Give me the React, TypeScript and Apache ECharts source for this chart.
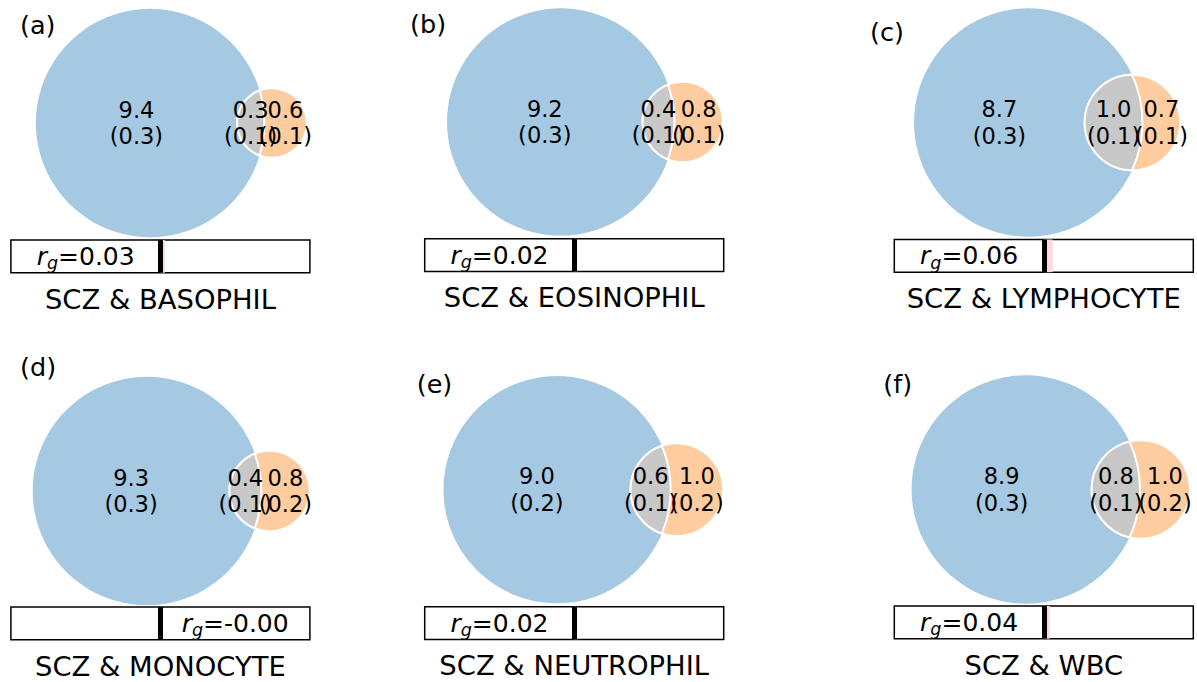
import React, { useEffect, useRef } from "react";
import * as echarts from "echarts";

// ---------- data ----------
const traits = ["BASOPHIL", "EOSINOPHIL", "LYMPHOCYTE", "MONOCYTE", "NEUTROPHIL", "WBC"];
const panelTags = ["(a)", "(b)", "(c)", "(d)", "(e)", "(f)"];
const sczOnly = [9.4, 9.2, 8.7, 9.3, 9.0, 8.9];
const sczOnlySe = [0.3, 0.3, 0.3, 0.3, 0.2, 0.3];
const shared = [0.3, 0.4, 1.0, 0.4, 0.6, 0.8];
const sharedSe = [0.1, 0.1, 0.1, 0.1, 0.1, 0.1];
const traitOnly = [0.6, 0.8, 0.7, 0.8, 1.0, 1.0];
const traitOnlySe = [0.1, 0.1, 0.1, 0.2, 0.2, 0.2];
const rg = [0.03, 0.02, 0.06, -0.0, 0.02, 0.04];

// ---------- layout / style ----------
const FONT = "DejaVu Sans";
const BLUE = "#a5c9e2";
const ORANGE = "#ffcc9f";
const GREY = "#c8c8c8";
const PINK = "#f9dadd";
const PX_PER_UNIT = 65; // pixels per sqrt(area) unit
const VENN_W = 300;
const VENN_H = 240;
const BAR_W = 299;
const BAR_H = 32.7;
const colCenters = [160.4, 574.2, 1043.8];
const panelCol = [0, 1, 2, 0, 1, 2];
const vennCenterY = [123, 122, 122.5, 491, 489.7, 489.5];
const barTops = [240, 238.7, 239.5, 607, 606.7, 606];
const tagPos = [
  [20, 25],
  [410, 24],
  [870, 32],
  [20, 367],
  [416.7, 383.7],
  [883.3, 383.7],
];

function lensArea(r1: number, r2: number, d: number) {
  if (d >= r1 + r2) return 0;
  if (d <= Math.abs(r1 - r2)) return Math.PI * Math.min(r1, r2) ** 2;
  const cl = (v: number) => Math.max(-1, Math.min(1, v));
  const a1 = Math.acos(cl((d * d + r1 * r1 - r2 * r2) / (2 * d * r1)));
  const a2 = Math.acos(cl((d * d + r2 * r2 - r1 * r1) / (2 * d * r2)));
  const k = (-d + r1 + r2) * (d + r1 - r2) * (d - r1 + r2) * (d + r1 + r2);
  return r1 * r1 * a1 + r2 * r2 * a2 - 0.5 * Math.sqrt(Math.max(0, k));
}

function solveVenn(i: number) {
  const A = sczOnly[i] + shared[i];
  const B = traitOnly[i] + shared[i];
  const AB = shared[i];
  const r1 = Math.sqrt(A / Math.PI);
  const r2 = Math.sqrt(B / Math.PI);
  let lo = Math.abs(r1 - r2);
  let hi = r1 + r2;
  for (let it = 0; it < 80; it++) {
    const mid = (lo + hi) / 2;
    if (lensArea(r1, r2, mid) > AB) lo = mid;
    else hi = mid;
  }
  const d = (lo + hi) / 2;
  const w1 = r1 * r1;
  const w2 = r2 * r2;
  return { r1, r2, x1: (-d * w2) / (w1 + w2), x2: (d * w1) / (w1 + w2) };
}

function fmtRg(v: number) {
  const neg = v < 0 || Object.is(v, -0);
  return (neg ? "-" : "") + Math.abs(v).toFixed(2);
}

function buildOption() {
  const grid: any[] = [];
  const xAxis: any[] = [];
  const yAxis: any[] = [];
  const series: any[] = [];
  const graphic: any[] = [];
  const xr = VENN_W / (2 * PX_PER_UNIT);
  const yr = VENN_H / (2 * PX_PER_UNIT);

  traits.forEach((trait, i) => {
    const cx = colCenters[panelCol[i]];
    const geo = solveVenn(i);
    // venn grid
    const vg = grid.length;
    grid.push({ left: cx - VENN_W / 2, top: vennCenterY[i] - VENN_H / 2, width: VENN_W, height: VENN_H, show: false });
    xAxis.push({ gridIndex: vg, type: "value", min: -xr, max: xr, show: false });
    yAxis.push({ gridIndex: vg, type: "value", min: -yr, max: yr, show: false });
    series.push({
      type: "custom",
      xAxisIndex: vg,
      yAxisIndex: vg,
      silent: true,
      clip: false,
      data: [[0, 0]],
      renderItem: (params: any, api: any) => {
        const c1 = api.coord([geo.x1, 0]);
        const c2 = api.coord([geo.x2, 0]);
        const R1 = api.size([geo.r1, 0])[0];
        const R2 = api.size([geo.r2, 0])[0];
        const D = c2[0] - c1[0];
        const a = (D * D + R1 * R1 - R2 * R2) / (2 * D);
        const h = Math.sqrt(Math.max(0, R1 * R1 - a * a));
        const px = c1[0] + a;
        const top = c1[1] - h;
        const bot = c1[1] + h;
        const largeSmall = px > c2[0] ? 1 : 0;
        const largeBig = px < c1[0] ? 1 : 0;
        const pathData = `M${px},${top} A${R2},${R2} 0 ${largeSmall} 0 ${px},${bot} A${R1},${R1} 0 ${largeBig} 0 ${px},${top} Z`;
        const xA = (c1[0] - R1 + (c2[0] - R2)) / 2;
        const xAB = (c2[0] - R2 + (c1[0] + R1)) / 2;
        const xB = (c1[0] + R1 + (c2[0] + R2)) / 2;
        const txt = (x: number, t: string) => ({
          type: "text",
          x,
          y: c1[1],
          z2: 10,
          style: {
            text: t,
            align: "center",
            verticalAlign: "middle",
            fontSize: 22.5,
            fontFamily: FONT,
            lineHeight: 26.5,
            fill: "#000",
          },
        });
        return {
          type: "group",
          children: [
            { type: "circle", shape: { cx: c1[0], cy: c1[1], r: R1 }, style: { fill: BLUE } },
            { type: "circle", shape: { cx: c2[0], cy: c2[1], r: R2 }, style: { fill: ORANGE, stroke: "#fff", lineWidth: 2 } },
            { type: "path", shape: { pathData }, style: { fill: GREY, stroke: "#fff", lineWidth: 2 } },
            txt(xA, `${sczOnly[i].toFixed(1)}\n(${sczOnlySe[i].toFixed(1)})`),
            txt(xAB, `${shared[i].toFixed(1)}\n(${sharedSe[i].toFixed(1)})`),
            txt(xB, `${traitOnly[i].toFixed(1)}\n(${traitOnlySe[i].toFixed(1)})`),
          ],
        };
      },
    });

    // rg bar grid
    const bg = grid.length;
    grid.push({
      left: cx - BAR_W / 2,
      top: barTops[i],
      width: BAR_W,
      height: BAR_H,
      show: true,
      borderColor: "#000",
      borderWidth: 1.5,
      backgroundColor: "#fff",
    });
    xAxis.push({ gridIndex: bg, type: "value", min: -1, max: 1, show: false });
    yAxis.push({ gridIndex: bg, type: "category", data: ["rg"], show: false });
    const neg = rg[i] < 0 || Object.is(rg[i], -0);
    series.push({
      type: "bar",
      xAxisIndex: bg,
      yAxisIndex: bg,
      silent: true,
      data: [rg[i]],
      barWidth: "100%",
      itemStyle: { color: PINK },
      markLine: {
        silent: true,
        symbol: ["none", "none"],
        label: { show: false },
        lineStyle: { color: "#000", width: 5, type: "solid" },
        data: [{ xAxis: 0 }],
      },
    });
    series.push({
      type: "scatter",
      xAxisIndex: bg,
      yAxisIndex: bg,
      silent: true,
      symbolSize: 0,
      itemStyle: { color: "#000", opacity: 0 },
      data: [[neg ? 0.5 : -0.5, 0]],
      label: {
        show: true,
        position: "inside",
        color: "#000",
        opacity: 1,
        textBorderWidth: 0,
        formatter: `{r|r}{g|g}{t|=${fmtRg(rg[i])}}`,
        rich: {
          r: { fontSize: 25, fontStyle: "italic", fontFamily: FONT, color: "#000", lineHeight: 32, verticalAlign: "middle" },
          g: { fontSize: 17.5, fontStyle: "italic", fontFamily: FONT, color: "#000", lineHeight: 18, verticalAlign: "bottom" },
          t: { fontSize: 25, fontFamily: FONT, color: "#000", lineHeight: 32, verticalAlign: "middle" },
        },
      },
    });

    // title & panel tag
    graphic.push({
      type: "text",
      x: cx,
      y: barTops[i] + BAR_H + 26.5,
      style: { text: `SCZ & ${trait}`, fontSize: 27.4, fontFamily: FONT, fill: "#000", align: "center", verticalAlign: "middle" },
    });
    graphic.push({
      type: "text",
      x: tagPos[i][0],
      y: tagPos[i][1],
      style: { text: panelTags[i], fontSize: 25.5, fontFamily: FONT, fill: "#000", align: "left", verticalAlign: "middle" },
    });
  });

  return {
    animation: false,
    backgroundColor: "#fff",
    grid,
    xAxis,
    yAxis,
    series,
    graphic,
  };
}

export default function App() {
  const ref = useRef<HTMLDivElement>(null);
  useEffect(() => {
    if (!ref.current) return;
    const chart = echarts.init(ref.current, undefined, { renderer: "svg" });
    chart.setOption(buildOption() as any);
    return () => chart.dispose();
  }, []);
  return <div ref={ref} style={{ position: "absolute", left: 0, top: 0, width: 1197, height: 682 }} />;
}
